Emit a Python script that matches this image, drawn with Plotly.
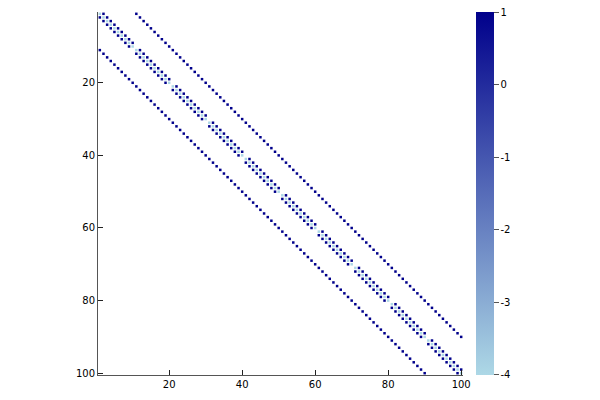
import plotly.graph_objects as go

# 2D Laplacian on a 10x10 grid (100x100 sparse matrix)
grid_n = 10
size_n = grid_n * grid_n
diag_value = -4
offdiag_value = 1
x_ticks = [20, 40, 60, 80, 100]
y_ticks = [20, 40, 60, 80, 100]
cbar_ticks = [1, 0, -1, -2, -3, -4]

rows, cols, vals = [], [], []
for i in range(size_n):
    rows.append(i + 1); cols.append(i + 1); vals.append(diag_value)
    if (i % grid_n) != grid_n - 1 and i + 1 < size_n:
        rows += [i + 1, i + 2]; cols += [i + 2, i + 1]; vals += [offdiag_value, offdiag_value]
    if i + grid_n < size_n:
        rows += [i + 1, i + 1 + grid_n]; cols += [i + 1 + grid_n, i + 1]; vals += [offdiag_value, offdiag_value]

colorscale = [[0, "rgb(173,216,230)"], [1, "rgb(0,0,139)"]]

fig = go.Figure(go.Scatter(
    x=cols, y=rows, mode="markers",
    marker=dict(symbol="square", size=2.5, color=vals, colorscale=colorscale,
                cmin=-4.001, cmax=1.001, line=dict(width=0),
                colorbar=dict(
                    xref="container", x=468/600, xanchor="left",
                    y=0.5, yanchor="middle", len=1, lenmode="fraction",
                    thickness=18, thicknessmode="pixels",
                    outlinewidth=0, ticks="outside", ticklen=5,
                    tickcolor="#555", tickvals=cbar_ticks,
                    ticktext=[str(v) for v in cbar_ticks],
                    ticklabeloverflow="allow",
                    tickfont=dict(family="DejaVu Sans", size=10, color="black"),
                    xpad=0, ypad=0,
                )),
    showlegend=False, hoverinfo="skip",
))

axis_common = dict(showgrid=False, zeroline=False, showline=True, linecolor="#555",
                   linewidth=1, ticks="inside", ticklen=5, tickcolor="#222",
                   tickfont=dict(family="DejaVu Sans", size=10, color="black"),
                   mirror=False)

fig.update_layout(
    width=600, height=400,
    margin=dict(l=90, r=145, t=4, b=33),
    plot_bgcolor="white", paper_bgcolor="white",
    xaxis=dict(range=[0.5, 100.5], tickvals=x_ticks, **axis_common),
    yaxis=dict(range=[100.5, 0.5], tickvals=y_ticks, **axis_common),
)

fig.write_html("out.html", config={"displayModeBar": False})
